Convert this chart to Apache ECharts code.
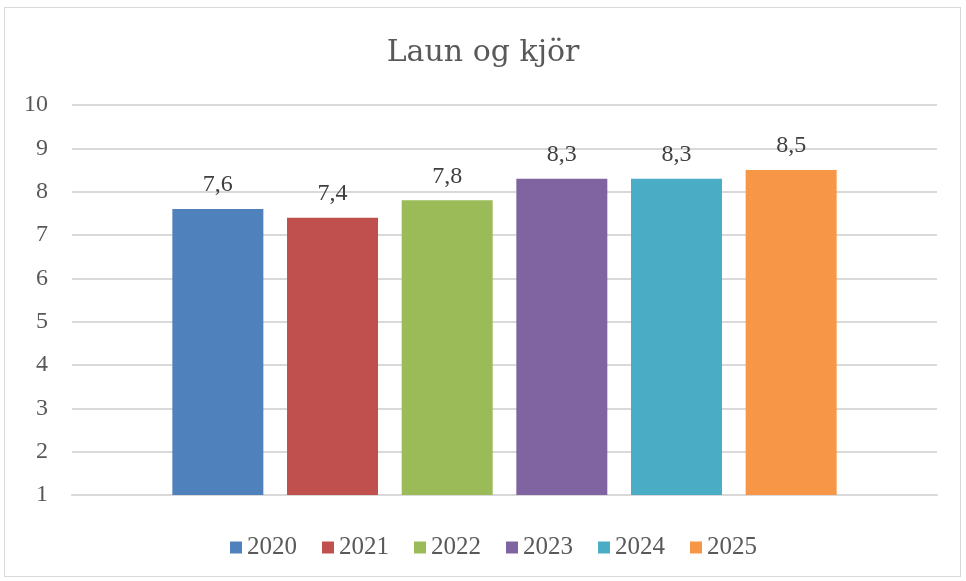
<!DOCTYPE html>
<html>
<head>
<meta charset="utf-8">
<script src="https://cdn.jsdelivr.net/npm/echarts@6/dist/echarts.min.js"></script>
<style>
    html, body { margin: 0; padding: 0; background: #fff; }
    #chart { width: 966px; height: 581px; }
    .frame { position: absolute; left: 4px; top: 7px; width: 957px; height: 570px; border: 1px solid #d9d9d9; box-sizing: border-box; pointer-events: none; }
</style>
</head>
<body>
<div id="chart"></div>
<div class="frame"></div>
<script>
const years = ['2020', '2021', '2022', '2023', '2024', '2025'];
const values = [7.6, 7.4, 7.8, 8.3, 8.3, 8.5];
const colors = ['#4f81bd', '#c0504d', '#9bbb59', '#8064a2', '#4bacc6', '#f79646'];
const numFont = '"Liberation Serif", "DejaVu Serif", serif';
const titleFont = '"DejaVu Serif", serif';

const chart = echarts.init(document.getElementById('chart'));

const series = years.map((y, i) => ({
    name: y,
    type: 'bar',
    data: [values[i]],
    itemStyle: { color: colors[i] },
    barWidth: 91,
    barGap: '26%',
    label: {
        show: true,
        position: 'top',
        distance: 12,
        color: '#404040',
        fontFamily: numFont,
        fontSize: 24,
        formatter: (p) => String(p.value).replace('.', ',')
    }
}));

chart.setOption({
    animation: false,
    title: {
        text: 'Laun og kjör',
        left: 'center',
        top: 33,
        textStyle: { color: '#595959', fontFamily: titleFont, fontSize: 30, fontWeight: 'normal' }
    },
    legend: {
        top: 530,
        left: 225,
        icon: 'rect',
        itemWidth: 12,
        itemHeight: 12,
        itemGap: 25,
        textStyle: { color: '#595959', fontFamily: numFont, fontSize: 25 }
    },
    grid: { left: 72, right: 29, top: 105, bottom: 86, containLabel: false },
    xAxis: {
        type: 'category',
        data: [''],
        axisLine: { show: true, lineStyle: { color: '#d9d9d9', width: 2 } },
        axisTick: { show: false },
        axisLabel: { show: false }
    },
    yAxis: {
        type: 'value',
        min: 1,
        max: 10,
        interval: 1,
        axisLine: { show: false },
        axisTick: { show: false },
        axisLabel: { color: '#595959', fontFamily: numFont, fontSize: 24, margin: 24 },
        splitLine: { lineStyle: { color: '#d9d9d9', width: 2 } }
    },
    series: series
});
</script>
</body>
</html>
